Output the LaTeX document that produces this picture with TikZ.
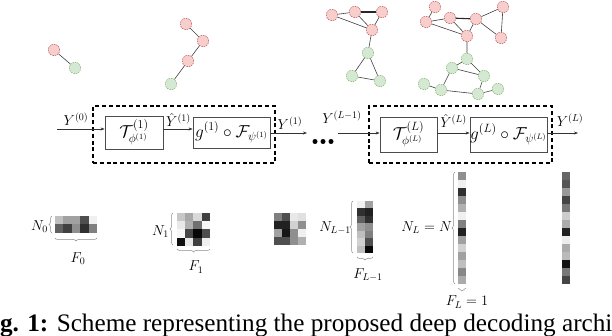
\documentclass[tikz,border=0pt]{standalone}
\usepackage{fontspec}
\newfontfamily\capfont{Liberation Serif}
\usetikzlibrary{arrows.meta,decorations.pathreplacing}
\definecolor{rfill}{HTML}{F8CECC}
\definecolor{rdraw}{HTML}{B85450}
\definecolor{gfill}{HTML}{D5E8D4}
\definecolor{gdraw}{HTML}{82B366}
\newcommand\drawcells[6]{%
  \foreach \v [count=\i from 0] in {#6} {%
    \pgfmathtruncatemacro\cc{mod(\i,#3)}%
    \pgfmathtruncatemacro\rr{div(\i,#3)}%
    \fill[black!\v] ({#1+\cc*#4},{#2+\rr*#5}) rectangle ++(#4,#5);}}
\begin{document}
\begin{tikzpicture}[x=1pt,y=-1pt,
  gn/.style={circle,minimum size=11.4pt,inner sep=0,dash pattern=on 1.5pt off 1pt,line width=0.5pt},
  rn/.style={gn,fill=rfill,draw=rdraw},
  grn/.style={gn,fill=gfill,draw=gdraw},
  ge/.style={draw=black!75,line width=0.6pt},
  gthick/.style={draw=black!85,line width=1.1pt},
  blk/.style={draw=black!70,line width=0.8pt,inner sep=0,font=\fontsize{16.5}{18}\selectfont},
  dbox/.style={draw=black,line width=1.1pt,dash pattern=on 4pt off 2.8pt,inner sep=0},
  lab/.style={inner sep=0,font=\fontsize{14}{16}\selectfont},
  hlab/.style={inner sep=0,font=\fontsize{14}{16}\selectfont},
  arr/.style={draw=black!80,line width=0.6pt,-{Stealth[length=4pt,width=3pt]}},
  br/.style={draw=black!45,line width=0.5pt,decorate,decoration={brace,amplitude=3pt}},
  dot/.style={circle,fill=black,inner sep=0,minimum size=5pt}]
\useasboundingbox (0,0) rectangle (612,336);

% ---------- graphs ----------
\node[rn] (a1) at (54,50) {};
\node[grn] (a2) at (75,68) {};
\draw[ge] (a1) -- (a2);

\node[rn] (b1) at (186,24) {};
\node[rn] (b2) at (203,41) {};
\node[rn] (b3) at (188,61) {};
\node[grn] (b4) at (171,84) {};
\draw[ge] (b1) -- (b2) (b2) -- (b3) (b3) -- (b4);

\node[rn] (ca) at (332,15) {};
\node[rn] (cb) at (355,12) {};
\node[rn] (cc) at (382,12) {};
\node[rn] (cd) at (372,30) {};
\node[grn] (ce) at (368,53) {};
\node[grn] (cf) at (352,76) {};
\node[grn] (cg) at (380,81) {};
\draw[ge] (ca) -- (cb) (cb) -- (cd) (cc) -- (cd) (ca) -- (cd) (cd) -- (ce)
  (ce) -- (cf) (ce) -- (cg) (cf) -- (cg);
\draw[gthick] (cb) -- (cc);

\node[rn] (dh) at (435,7) {};
\node[rn] (di) at (426,22) {};
\node[rn] (dj) at (450,18) {};
\node[rn] (dk) at (476,19) {};
\node[rn] (dl) at (503,7) {};
\node[rn] (dm) at (467,36) {};
\node[rn] (dn) at (501,38) {};
\node[grn] (do) at (467,59) {};
\node[grn] (dp) at (452,68) {};
\node[grn] (dq) at (484,76) {};
\node[grn] (dr) at (424,84) {};
\node[grn] (ds) at (441,90) {};
\node[grn] (dt) at (478,94) {};
\node[grn] (du) at (498,89) {};
\draw[ge] (dh) -- (di) (di) -- (dj) (di) -- (dm) (dj) -- (dm) (dk) -- (dm)
  (dk) -- (dl) (dl) -- (dn) (dk) -- (dn) (dm) -- (do) (do) -- (dp) (do) -- (dq)
  (dp) -- (dq) (dp) -- (ds) (dr) -- (ds) (ds) -- (dt) (dt) -- (dq) (dt) -- (du);
\draw[gthick] (dj) -- (dk);

% ---------- block chain ----------
\node[dbox,minimum width=182pt,minimum height=57pt] (D1) at (184,134.5) {};
\node[dbox,minimum width=183pt,minimum height=57pt] (D2) at (460.5,134.5) {};
\node[blk,minimum width=58pt,minimum height=33pt] (T1) at (134,132.5) {$\mathcal{T}^{(1)}_{\phi^{(1)}}$};
\node[blk,minimum width=77pt,minimum height=31pt] (G1) at (231.5,132.5) {$g^{(1)}\circ\mathcal{F}_{\psi^{(1)}}$};
\node[blk,minimum width=57pt,minimum height=35pt] (T2) at (408.5,134.5) {$\mathcal{T}^{(L)}_{\phi^{(L)}}$};
\node[blk,minimum width=77pt,minimum height=35pt] (G2) at (508.5,134.5) {$g^{(L)}\circ\mathcal{F}_{\psi^{(L)}}$};

\coordinate (in0) at (57,129);
\coordinate (o1) at (307,133);
\coordinate (i2) at (338,133);
\coordinate (oL) at (578,133);
\node[dot] (p1) at (315,141.5) {};
\node[dot] (p2) at (323,141.5) {};
\node[dot] (p3) at (331,141.5) {};

\draw[arr] (in0) -- (in0 -| T1.west);
\draw[arr] (T1.east |- 0,129) -- (G1.west |- 0,129);
\draw[arr] (G1.east |- o1) -- (o1);
\draw[arr] (i2) -- (i2 -| T2.west);
\draw[arr] (T2.east |- 0,133) -- (G2.west |- 0,133);
\draw[arr] (G2.east |- oL) -- (oL);

\node[lab] (ly0) at (76,119) {$Y^{(0)}$};
\node[hlab] (lh1) at (178.5,120) {$\hat{Y}^{(1)}$};
\node[lab] (ly1) at (290,123) {$Y^{(1)}$};
\node[lab] (lyl1) at (342,117) {$Y^{(L-1)}$};
\node[hlab] (lhL) at (453.5,121) {$\hat{Y}^{(L)}$};
\node[lab] (lyL) at (570,120) {$Y^{(L)}$};

% ---------- matrices ----------
\drawcells{55}{216}{5}{8.4}{8.5}{25,37,37,69,6,62,75,44,81,50}
\drawcells{177}{213}{4}{8.2}{8.2}{22,34,15,75,9,31,56,3,3,72,97,69,94,9,75,6}
\drawcells{274}{213}{4}{8}{8}{50,69,9,12,87,87,18,44,37,91,44,6,69,69,44,31}
\drawcells{357}{201}{2}{8}{7.43}{6,37,81,87,62,81,37,44,25,50,18,69,25,97}
\drawcells{458}{172}{1}{8}{8}{44,6,81,44,31,6,50,87,37,18,37,25,47,33}
\drawcells{562}{172}{1}{8}{8}{60,67,40,73,53,20,33,87,7,33,27,93,53,73}

\coordinate (m0a) at (52,233); \coordinate (m0b) at (52,216);
\coordinate (m0c) at (97,238); \coordinate (m0d) at (55,238);
\draw[br] (m0a) -- (m0b);
\draw[br] (m0c) -- (m0d);
\node[lab,anchor=east] (n0) at (48,227) {$N_0$};
\node[lab] (f0) at (78,259) {$F_0$};

\coordinate (m1a) at (173,245); \coordinate (m1b) at (173,213);
\coordinate (m1c) at (210,249); \coordinate (m1d) at (177,249);
\draw[br] (m1a) -- (m1b);
\draw[br] (m1c) -- (m1d);
\node[lab,anchor=east] (n1) at (169,232) {$N_1$};
\node[lab] (f1) at (196,267) {$F_1$};

\coordinate (m2a) at (353,253); \coordinate (m2b) at (353,201);
\coordinate (m2c) at (373,257); \coordinate (m2d) at (357,257);
\draw[br] (m2a) -- (m2b);
\draw[br] (m2c) -- (m2d);
\node[lab,anchor=east] (n2) at (351,228) {$N_{L-1}$};
\node[lab] (f2) at (368,275) {$F_{L-1}$};

\coordinate (m3a) at (455,284); \coordinate (m3b) at (455,172);
\coordinate (m3c) at (466,288) ; \coordinate (m3d) at (458,288);
\draw[br] (m3a) -- (m3b);
\draw[br] (m3c) -- (m3d);
\node[lab,anchor=east] (n3) at (452,228) {$N_L=N$};
\node[lab] (f3) at (467,302) {$F_L=1$};

% ---------- caption ----------
\node[anchor=base west,inner sep=0,font=\capfont\fontsize{25.2}{28}\selectfont] (cap) at (-22.5,331)
  {\textbf{Fig. 1:} Scheme representing the proposed deep decoding architecture};
\end{tikzpicture}
\end{document}
